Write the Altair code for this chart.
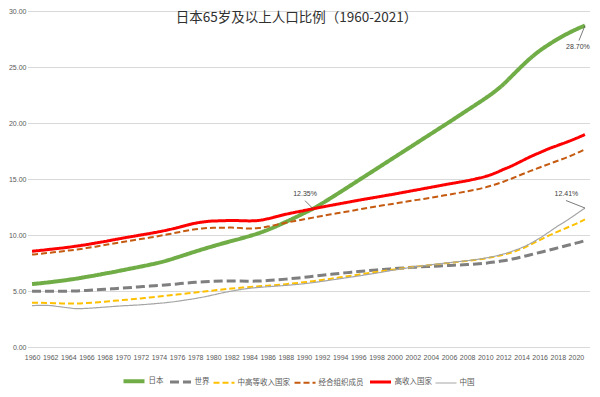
import altair as alt
import pandas as pd

years = list(range(1960, 2022))
series_names = ["日本", "世界", "中高等收入国家", "经合组织成员", "高收入国家", "中国"]

japan = [5.62, 5.70, 5.79, 5.89, 6.00, 6.12, 6.26, 6.40, 6.55, 6.70,
         6.86, 7.02, 7.18, 7.35, 7.53, 7.75, 8.00, 8.26, 8.52, 8.77,
         9.01, 9.24, 9.46, 9.68, 9.91, 10.16, 10.46, 10.80, 11.17, 11.55,
         11.95, 12.35, 12.82, 13.32, 13.83, 14.35, 14.87, 15.39, 15.91, 16.43,
         16.95, 17.47, 17.99, 18.51, 19.03, 19.55, 20.07, 20.60, 21.13, 21.66,
         22.20, 22.78, 23.45, 24.25, 25.05, 25.80, 26.45, 27.00, 27.50, 27.95,
         28.35, 28.70]
world = [4.97, 4.98, 4.98, 4.98, 4.99, 5.01, 5.05, 5.10, 5.15, 5.21,
         5.27, 5.32, 5.38, 5.44, 5.49, 5.55, 5.63, 5.71, 5.78, 5.83,
         5.87, 5.89, 5.90, 5.89, 5.88, 5.89, 5.93, 5.99, 6.06, 6.14,
         6.22, 6.31, 6.40, 6.49, 6.58, 6.66, 6.74, 6.81, 6.88, 6.94,
         7.00, 7.06, 7.11, 7.16, 7.20, 7.24, 7.28, 7.32, 7.36, 7.41,
         7.48, 7.58, 7.70, 7.86, 8.04, 8.24, 8.44, 8.64, 8.85, 9.06,
         9.27, 9.50]
upper_mid = [3.95, 3.95, 3.93, 3.90, 3.88, 3.88, 3.92, 3.98, 4.05, 4.12,
             4.19, 4.26, 4.34, 4.42, 4.51, 4.60, 4.69, 4.78, 4.87, 4.96,
             5.05, 5.14, 5.22, 5.29, 5.36, 5.42, 5.48, 5.54, 5.61, 5.69,
             5.78, 5.88, 5.99, 6.10, 6.22, 6.34, 6.46, 6.58, 6.70, 6.82,
             6.93, 7.04, 7.14, 7.24, 7.33, 7.42, 7.51, 7.60, 7.69, 7.79,
             7.91, 8.06, 8.24, 8.46, 8.76, 9.15, 9.55, 9.95, 10.30, 10.65,
             11.00, 11.39]
oecd = [8.25, 8.33, 8.42, 8.51, 8.61, 8.71, 8.83, 8.96, 9.10, 9.24,
        9.38, 9.51, 9.64, 9.77, 9.91, 10.06, 10.22, 10.38, 10.51, 10.60,
        10.64, 10.65, 10.66, 10.62, 10.58, 10.62, 10.75, 10.92, 11.09, 11.25,
        11.40, 11.55, 11.70, 11.85, 11.99, 12.13, 12.27, 12.41, 12.55, 12.68,
        12.81, 12.94, 13.07, 13.20, 13.33, 13.47, 13.61, 13.75, 13.90, 14.06,
        14.25, 14.48, 14.76, 15.07, 15.40, 15.72, 16.03, 16.33, 16.63, 16.93,
        17.27, 17.65]
high_income = [8.55, 8.63, 8.72, 8.81, 8.91, 9.02, 9.14, 9.28, 9.42, 9.57,
               9.72, 9.86, 10.00, 10.14, 10.29, 10.46, 10.65, 10.86, 11.05, 11.18,
               11.25, 11.27, 11.30, 11.28, 11.26, 11.30, 11.45, 11.65, 11.85, 12.02,
               12.18, 12.34, 12.50, 12.65, 12.80, 12.95, 13.10, 13.24, 13.38, 13.52,
               13.66, 13.81, 13.96, 14.11, 14.26, 14.41, 14.56, 14.70, 14.85, 15.02,
               15.22, 15.50, 15.85, 16.20, 16.60, 17.00, 17.35, 17.70, 18.00, 18.30,
               18.62, 18.97]
china = [3.69, 3.72, 3.70, 3.60, 3.50, 3.42, 3.45, 3.50, 3.56, 3.62,
         3.68, 3.72, 3.77, 3.83, 3.90, 3.98, 4.08, 4.20, 4.33, 4.48,
         4.65, 4.83, 4.99, 5.13, 5.24, 5.32, 5.38, 5.44, 5.50, 5.57,
         5.65, 5.75, 5.86, 5.98, 6.10, 6.22, 6.34, 6.47, 6.60, 6.74,
         6.88, 7.01, 7.13, 7.24, 7.34, 7.44, 7.53, 7.62, 7.71, 7.81,
         7.94, 8.10, 8.30, 8.56, 8.87, 9.25, 9.72, 10.25, 10.80, 11.30,
         11.85, 12.41]

x_tick_years = list(range(1960, 2021, 2))
y_ticks = [0, 5, 10, 15, 20, 25, 30]
title_text = "日本65岁及以上人口比例（1960-2021）"

colors = ["#70ad47", "#7f7f7f", "#ffc000", "#c55a11", "#ff0000", "#a5a5a5"]
dashes = [[1, 0], [9, 4], [6, 3], [6, 3], [1, 0], [1, 0]]
widths = [4, 3, 2, 2, 3, 1.2]

rows = []
for name, vals in zip(series_names, [japan, world, upper_mid, oecd, high_income, china]):
    for yr, v in zip(years, vals):
        rows.append({"year": yr, "value": v, "series": name})
df = pd.DataFrame(rows)

xscale = alt.Scale(domain=[1959.5, 2021.5], nice=False, zero=False)
yscale = alt.Scale(domain=[0, 30], nice=False)

x_axis = alt.Axis(values=x_tick_years, format="d", grid=False, ticks=False,
                  domain=False, labelFontSize=7, labelColor="#595959",
                  labelPadding=6.5, labelFont="Liberation Sans",
                  labelOverlap=False, labelFlush=False, title=None)
y_axis = alt.Axis(values=y_ticks, format=".2f", grid=True, gridColor="#d9d9d9",
                  ticks=False, domain=False, labelFontSize=7,
                  labelColor="#595959", labelPadding=1.5,
                  labelFont="Liberation Sans", title=None)

legend = alt.Legend(orient="none", legendX=94, legendY=357.5, direction="horizontal",
                    symbolType="stroke", symbolSize=441, labelFontSize=7.5,
                    labelFont="Noto Sans CJK SC", labelColor="#595959",
                    columnPadding=0, labelOffset=2, padding=0, title=None)

lines = alt.Chart(df).mark_line(strokeCap="butt", interpolate="monotone").encode(
    x=alt.X("year:Q", scale=xscale, axis=x_axis),
    y=alt.Y("value:Q", scale=yscale, axis=y_axis),
    color=alt.Color("series:N", title=None, legend=legend,
                    scale=alt.Scale(domain=series_names, range=colors)),
    strokeDash=alt.StrokeDash("series:N", title=None, legend=legend,
                              scale=alt.Scale(domain=series_names, range=dashes)),
    strokeWidth=alt.StrokeWidth("series:N", title=None, legend=legend,
                                scale=alt.Scale(type="ordinal", domain=series_names, range=widths)),
)

title_df = pd.DataFrame({"t": [title_text]})
title_layer = alt.Chart(title_df).mark_text(
    font="Noto Sans CJK SC", fontSize=13.5, color="#303030",
    align="center", baseline="middle"
).encode(x=alt.value(269), y=alt.value(7), text="t:N")

def annotation(yr, val, dx, dy, lx, ly):
    d = pd.DataFrame({"year": [yr], "value": [val], "label": [f"{val:.2f}%"]})
    base = alt.Chart(d)
    xe = alt.X("year:Q", scale=xscale, axis=x_axis)
    ye = alt.Y("value:Q", scale=yscale, axis=y_axis)
    txt = base.mark_text(font="Liberation Sans", fontSize=7, color="#404040",
                         dx=dx, dy=dy, align="center", baseline="middle").encode(
        x=xe, y=ye, text="label:N")
    rule = base.mark_rule(color="#595959", strokeWidth=0.8, x2Offset=lx, y2Offset=ly).encode(
        x=xe, y=ye, x2=alt.X2("year"), y2=alt.Y2("value"))
    return [rule, txt]

ann = []
ann += annotation(years[-1], japan[-1], -7, 21, -6, 15)
ann += annotation(years[31], japan[31], -8, -14.5, -8, -8)
ann += annotation(years[-1], china[-1], -18.5, -14.5, -19, -7.5)

chart = alt.layer(lines, *ann, title_layer).properties(
    width=562, height=336,
    autosize=alt.AutoSizeParams(type="none"),
    padding={"left": 19.5, "top": 3, "right": 2, "bottom": 40},
).configure_view(strokeWidth=0)

chart.save("out.html", embed_options={"renderer": "svg", "actions": False})
